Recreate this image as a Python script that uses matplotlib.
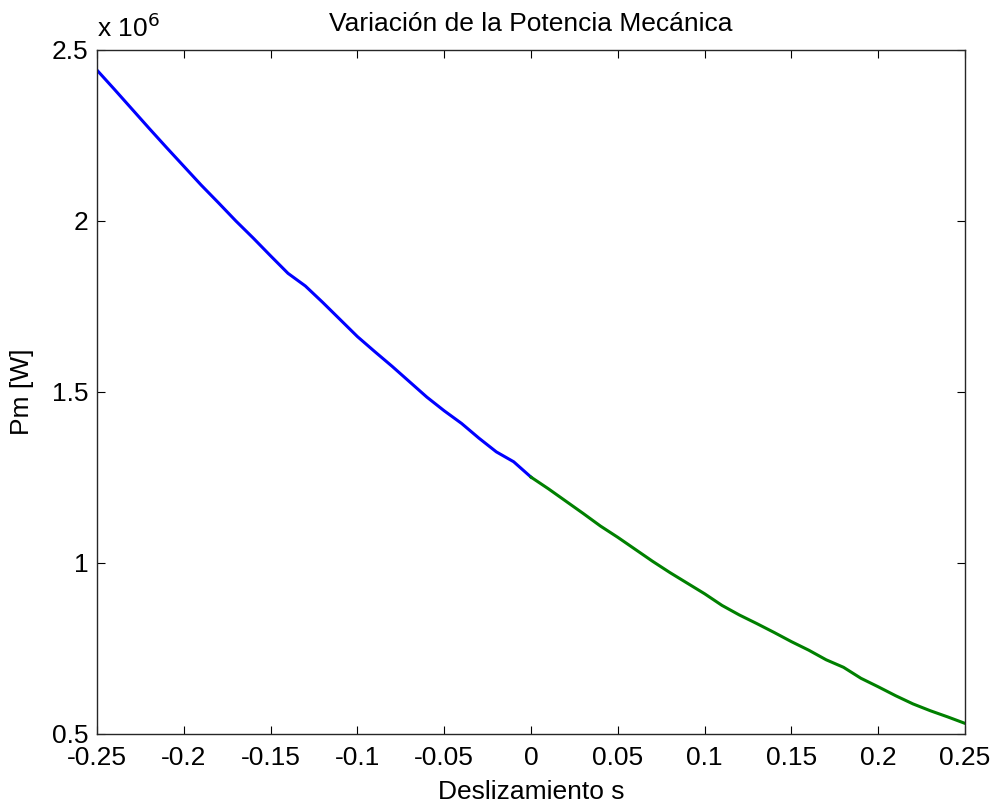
import matplotlib
matplotlib.use("Agg")
import matplotlib.pyplot as plt
from matplotlib.ticker import FuncFormatter

plt.rcParams['font.family'] = ['Liberation Sans', 'DejaVu Sans']

# slip values and mechanical power (x 10^6 W)
s_motor = [-0.25, -0.24, -0.23, -0.22, -0.21, -0.20, -0.19, -0.18, -0.17, -0.16,
           -0.15, -0.14, -0.13, -0.12, -0.11, -0.10, -0.09, -0.08, -0.07, -0.06,
           -0.05, -0.04, -0.03, -0.02, -0.01, 0.0]
pm_motor = [2.441, 2.385, 2.328, 2.271, 2.215, 2.160, 2.105, 2.053, 2.000, 1.950,
            1.898, 1.847, 1.810, 1.762, 1.712, 1.662, 1.618, 1.575, 1.530, 1.485,
            1.445, 1.408, 1.365, 1.325, 1.296, 1.251]

s_gen = [0.0, 0.01, 0.02, 0.03, 0.04, 0.05, 0.06, 0.07, 0.08, 0.09,
         0.10, 0.11, 0.12, 0.13, 0.14, 0.15, 0.16, 0.17, 0.18, 0.19,
         0.20, 0.21, 0.22, 0.23, 0.24, 0.25]
pm_gen = [1.251, 1.217, 1.181, 1.145, 1.108, 1.075, 1.040, 1.005, 0.972, 0.941,
          0.910, 0.876, 0.848, 0.823, 0.797, 0.770, 0.745, 0.717, 0.695, 0.663,
          0.638, 0.612, 0.588, 0.568, 0.550, 0.531]

x_ticks = [-0.25, -0.2, -0.15, -0.1, -0.05, 0, 0.05, 0.1, 0.15, 0.2, 0.25]
y_ticks = [0.5e6, 1e6, 1.5e6, 2e6, 2.5e6]

FS = 19

fig = plt.figure(figsize=(9.95, 8.05), dpi=100)
ax = fig.add_axes([0.0975, 0.0882, 0.8724, 0.8497])

ax.plot(s_motor, [p * 1e6 for p in pm_motor], color=(0, 0, 1), linewidth=2.2)
ax.plot(s_gen, [p * 1e6 for p in pm_gen], color=(0, 0.5, 0), linewidth=2.2)

ax.set_xlim(-0.25, 0.25)
ax.set_ylim(0.5e6, 2.5e6)
ax.set_xticks(x_ticks)
ax.set_yticks(y_ticks)
ax.xaxis.set_major_formatter(FuncFormatter(lambda v, p: '%g' % round(v, 2)))
ax.yaxis.set_major_formatter(FuncFormatter(lambda v, p: '%g' % (v / 1e6)))

ax.tick_params(direction='in', length=5.5, width=0.8, top=True, right=True,
               labelsize=FS, colors='black')
ax.tick_params(axis='x', pad=9)
ax.tick_params(axis='y', pad=6)
for sp in ax.spines.values():
    sp.set_color('#262626')
    sp.set_linewidth(1.0)

ax.text(0.0, 1.012, r'x 10$^{6}$', transform=ax.transAxes, fontsize=FS,
        ha='left', va='bottom')

ax.set_title('Variación de la Potencia Mecánica', fontsize=FS, pad=14)
ax.set_xlabel('Deslizamiento s', fontsize=FS, labelpad=7)
ax.set_ylabel('Pm [W]', fontsize=FS, labelpad=13)

fig.savefig('out.png', dpi=100, facecolor='white')
